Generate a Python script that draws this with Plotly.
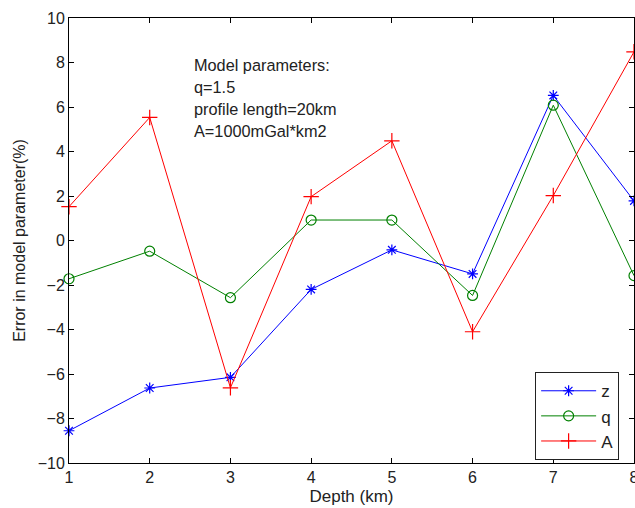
import plotly.graph_objects as go

# Depth of the source (km)
depth = [1, 2, 3, 4, 5, 6, 7, 8]

# Relative error (%) of each recovered model parameter
err_z = [-8.55, -6.63, -6.15, -2.2, -0.42, -1.5, 6.52, 1.78]
err_q = [-1.72, -0.48, -2.57, 0.92, 0.92, -2.47, 6.08, -1.58]
err_A = [1.52, 5.53, -6.62, 1.97, 4.48, -4.1, 2.02, 8.48]

series_names = ["z", "q", "A"]
series_colors = ["#0000FF", "#008000", "#FF0000"]
series_symbols = ["asterisk-open", "circle-open", "cross-thin-open"]
series_sizes = [9, 10, 11]

info_lines = [
    "Model parameters:",
    "q=1.5",
    "profile length=20km",
    "A=1000mGal*km2",
]

FONT = "Liberation Sans, Arial, sans-serif"

fig = go.Figure()
for name, ys, color, sym, size in zip(series_names, [err_z, err_q, err_A],
                                      series_colors, series_symbols, series_sizes):
    fig.add_trace(go.Scatter(
        x=depth, y=ys, name=name, mode="lines+markers",
        line=dict(color=color, width=1),
        marker=dict(symbol=sym, size=size, color=color,
                    line=dict(color=color, width=1.2)),
        cliponaxis=False,
    ))

# Parameter summary written inside the axes
for i, txt in enumerate(info_lines):
    fig.add_annotation(
        x=2.52, y=7.9 - 0.99 * i, xref="x", yref="y",
        text=txt, showarrow=False, xanchor="left", yanchor="middle",
        font=dict(family=FONT, size=16.3, color="#222222"),
    )

axis_common = dict(
    showline=True, linecolor="black", linewidth=1, mirror="ticks",
    ticks="inside", ticklen=5, tickcolor="black", tickwidth=1,
    showgrid=False, zeroline=False, ticklabeloverflow="allow",
    automargin=False,
    tickfont=dict(family=FONT, size=16, color="#222222"),
)

fig.update_layout(
    width=635, height=508,
    margin=dict(l=69, r=1, t=18, b=45, autoexpand=False),
    paper_bgcolor="white", plot_bgcolor="white",
    showlegend=True,
    legend=dict(
        x=0.825, y=0.204, xanchor="left", yanchor="top",
        bgcolor="white", bordercolor="#222222", borderwidth=1,
        font=dict(family=FONT, size=17, color="#222222"),
        itemwidth=55, tracegroupgap=0,
    ),
    xaxis=dict(
        range=[1, 8], dtick=1, tick0=1,
        title=dict(text="Depth (km)", standoff=4,
                   font=dict(family=FONT, size=17, color="#222222")),
        **axis_common,
    ),
    yaxis=dict(
        range=[-10, 10], dtick=2, tick0=0,
        title=dict(text="Error in model parameter(%)", standoff=8,
                   font=dict(family=FONT, size=16, color="#222222")),
        **axis_common,
    ),
)

fig.write_html("out.html")
